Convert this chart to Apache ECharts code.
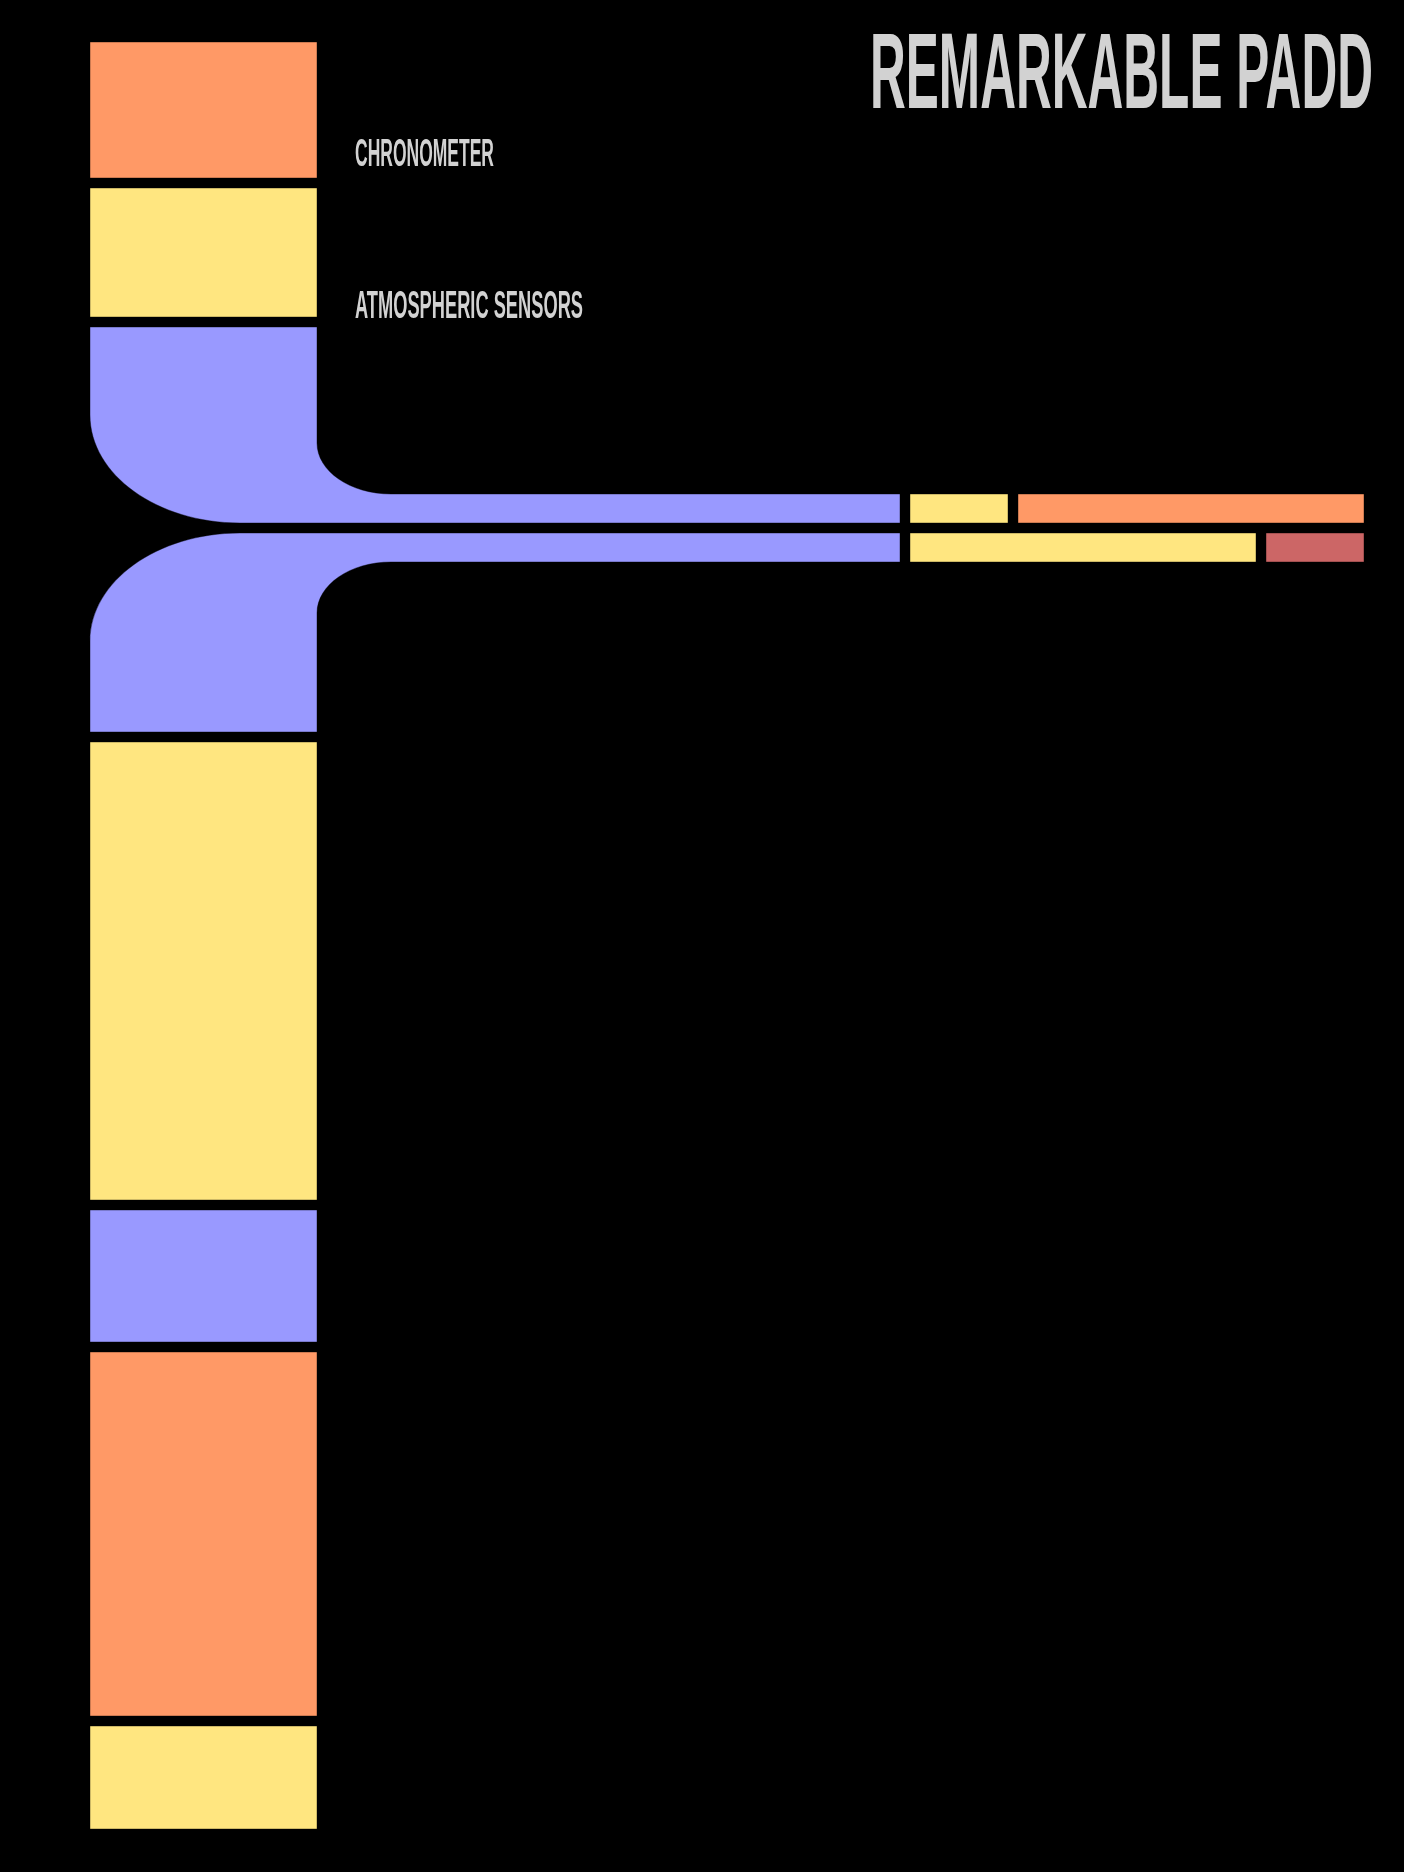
<!DOCTYPE html>
<html><head><meta charset="utf-8">
<script src="https://cdn.jsdelivr.net/npm/echarts@6/dist/echarts.min.js"></script>
<style>html,body{margin:0;padding:0;background:#000}#c{width:1404px;height:1872px}</style>
</head><body><div id="c"></div>
<script>
// ---- data (lengths of each panel segment) ----
const columnSizes  = [136, 129, 196, 199, 458, 132, 364, 103];
const columnColors = ['orange', 'yellow', 'purple', 'purple', 'yellow', 'purple', 'orange', 'yellow'];
const columnLabels = ['CHRONOMETER', 'ATMOSPHERIC SENSORS', '', '', '', '', '', ''];
const upperRowSizes  = [810, 98, 346];
const upperRowColors = ['purple', 'yellow', 'orange'];
const lowerRowSizes  = [810, 346, 98];
const lowerRowColors = ['purple', 'yellow', 'red'];
const titleText = 'REMARKABLE PADD';

// ---- style / layout ----
const PALETTE = { orange: '#FF9966', yellow: '#FFE680', purple: '#9999FF', red: '#CC6666' };
const TEXT_COLOR = '#d2d2d2';
const FONT = 'Liberation Sans';
const WEIGHT = 'bold';
const MID_FIX = 0.07; // shift of zrender 'middle' vs cap centre, in em
const L = { colX0: 90, colX1: 317, colTop: 42, gap: 10, arm: 29,
            outerRx: 150, outerRy: 108, innerRx: 74, innerRy: 51, labelX: 355 };
const LABEL_STYLE = [ { dy: -25, size: 38, width: 139 }, { dy: -12.3, size: 38, width: 228 } ];
const TITLE = { right: 1373, capMid: 71.5, size: 107, width: 503 };
const UPPER_ELBOW = 2, LOWER_ELBOW = 3;
const K = 0.5523;

function layout(sizes, start, gap) {
  let p = start;
  return sizes.map(s => { const a = p; p += s + gap; return [a, a + s]; });
}
const colSpans = layout(columnSizes, L.colTop, L.gap);
const upperSpans = layout(upperRowSizes, L.colX0, L.gap);
const lowerSpans = layout(lowerRowSizes, L.colX0, L.gap);
const upperRowY = [colSpans[UPPER_ELBOW][1] - L.arm, colSpans[UPPER_ELBOW][1]];
const lowerRowY = [colSpans[LOWER_ELBOW][0], colSpans[LOWER_ELBOW][0] + L.arm];

const mc = document.createElement('canvas').getContext('2d');
function fitScale(text, size, width) {
  mc.font = WEIGHT + ' ' + size + 'px "' + FONT + '"';
  return width / mc.measureText(text).width;
}

const columnData = colSpans.map((s, i) => [s[0], s[1], i]);
const rowData = [];
upperSpans.forEach((s, i) => { if (i > 0) rowData.push([s[0], s[1], 0, i]); });
lowerSpans.forEach((s, i) => { if (i > 0) rowData.push([s[0], s[1], 1, i]); });

function pathFrom(api, pts) {
  return pts.map(c => {
    if (c[0] === 'Z') return 'Z';
    const out = [c[0]];
    for (let j = 1; j < c.length; j += 2) {
      const p = api.coord([c[j], c[j + 1]]);
      out.push(p[0].toFixed(2), p[1].toFixed(2));
    }
    return out.join(' ');
  }).join(' ');
}

const STROKE = { stroke: 'rgba(0,0,0,0.4)', lineWidth: 1 };

function renderColumn(params, api) {
  const y0 = api.value(0), y1 = api.value(1), i = api.value(2);
  const fill = PALETTE[columnColors[i]];
  const x0 = L.colX0, x1 = L.colX1;
  const children = [];
  if (i === UPPER_ELBOW) {
    const xe = upperSpans[0][1], yb = y1, yt = y1 - L.arm;
    const d = pathFrom(api, [
      ['M', x0, y0], ['L', x1, y0], ['L', x1, yt - L.innerRy],
      ['C', x1, yt - L.innerRy + K * L.innerRy, x1 + L.innerRx - K * L.innerRx, yt, x1 + L.innerRx, yt],
      ['L', xe, yt], ['L', xe, yb], ['L', x0 + L.outerRx, yb],
      ['C', x0 + L.outerRx - K * L.outerRx, yb, x0, yb - L.outerRy + K * L.outerRy, x0, yb - L.outerRy],
      ['Z']
    ]);
    children.push({ type: 'path', shape: { pathData: d }, style: Object.assign({ fill }, STROKE) });
  } else if (i === LOWER_ELBOW) {
    const xe = lowerSpans[0][1], yt = y0, yb = y0 + L.arm;
    const d = pathFrom(api, [
      ['M', x0, y1], ['L', x1, y1], ['L', x1, yb + L.innerRy],
      ['C', x1, yb + L.innerRy - K * L.innerRy, x1 + L.innerRx - K * L.innerRx, yb, x1 + L.innerRx, yb],
      ['L', xe, yb], ['L', xe, yt], ['L', x0 + L.outerRx, yt],
      ['C', x0 + L.outerRx - K * L.outerRx, yt, x0, yt + L.outerRy - K * L.outerRy, x0, yt + L.outerRy],
      ['Z']
    ]);
    children.push({ type: 'path', shape: { pathData: d }, style: Object.assign({ fill }, STROKE) });
  } else {
    const a = api.coord([x0, y0]), b = api.coord([x1, y1]);
    children.push({ type: 'rect', shape: { x: a[0], y: a[1], width: b[0] - a[0], height: b[1] - a[1] },
                    style: Object.assign({ fill }, STROKE) });
  }
  const label = columnLabels[i];
  if (label) {
    const ls = LABEL_STYLE[i];
    const p = api.coord([L.labelX, y1 + ls.dy + MID_FIX * ls.size]);
    children.push({ type: 'text', x: p[0], y: p[1], scaleX: fitScale(label, ls.size, ls.width),
      style: { text: label, fill: TEXT_COLOR, fontSize: ls.size, fontWeight: WEIGHT, fontFamily: FONT,
               align: 'left', verticalAlign: 'middle' } });
  }
  return { type: 'group', children };
}

function renderRow(params, api) {
  const xa = api.value(0), xb = api.value(1), row = api.value(2), i = api.value(3);
  const ys = row === 0 ? upperRowY : lowerRowY;
  const fill = PALETTE[(row === 0 ? upperRowColors : lowerRowColors)[i]];
  const a = api.coord([xa, ys[0]]), b = api.coord([xb, ys[1]]);
  return { type: 'rect', shape: { x: a[0], y: a[1], width: b[0] - a[0], height: b[1] - a[1] },
           style: Object.assign({ fill }, STROKE) };
}

const chart = echarts.init(document.getElementById('c'), null, { renderer: 'canvas' });
chart.setOption({
  backgroundColor: '#000',
  animation: false,
  grid: { left: 0, right: 0, top: 0, bottom: 0 },
  xAxis: { type: 'value', min: 0, max: 1404, show: false },
  yAxis: { type: 'value', min: 0, max: 1872, inverse: true, show: false },
  graphic: [{
    type: 'text', x: TITLE.right, y: TITLE.capMid + MID_FIX * TITLE.size,
    scaleX: fitScale(titleText, TITLE.size, TITLE.width),
    style: { text: titleText, fill: TEXT_COLOR, fontSize: TITLE.size, fontWeight: WEIGHT, fontFamily: FONT,
             align: 'right', verticalAlign: 'middle' }
  }],
  series: [
    { type: 'custom', name: 'column', coordinateSystem: 'cartesian2d', clip: false,
      data: columnData, renderItem: renderColumn, silent: true },
    { type: 'custom', name: 'rows', coordinateSystem: 'cartesian2d', clip: false,
      data: rowData, renderItem: renderRow, silent: true }
  ]
});
</script>
</body></html>
